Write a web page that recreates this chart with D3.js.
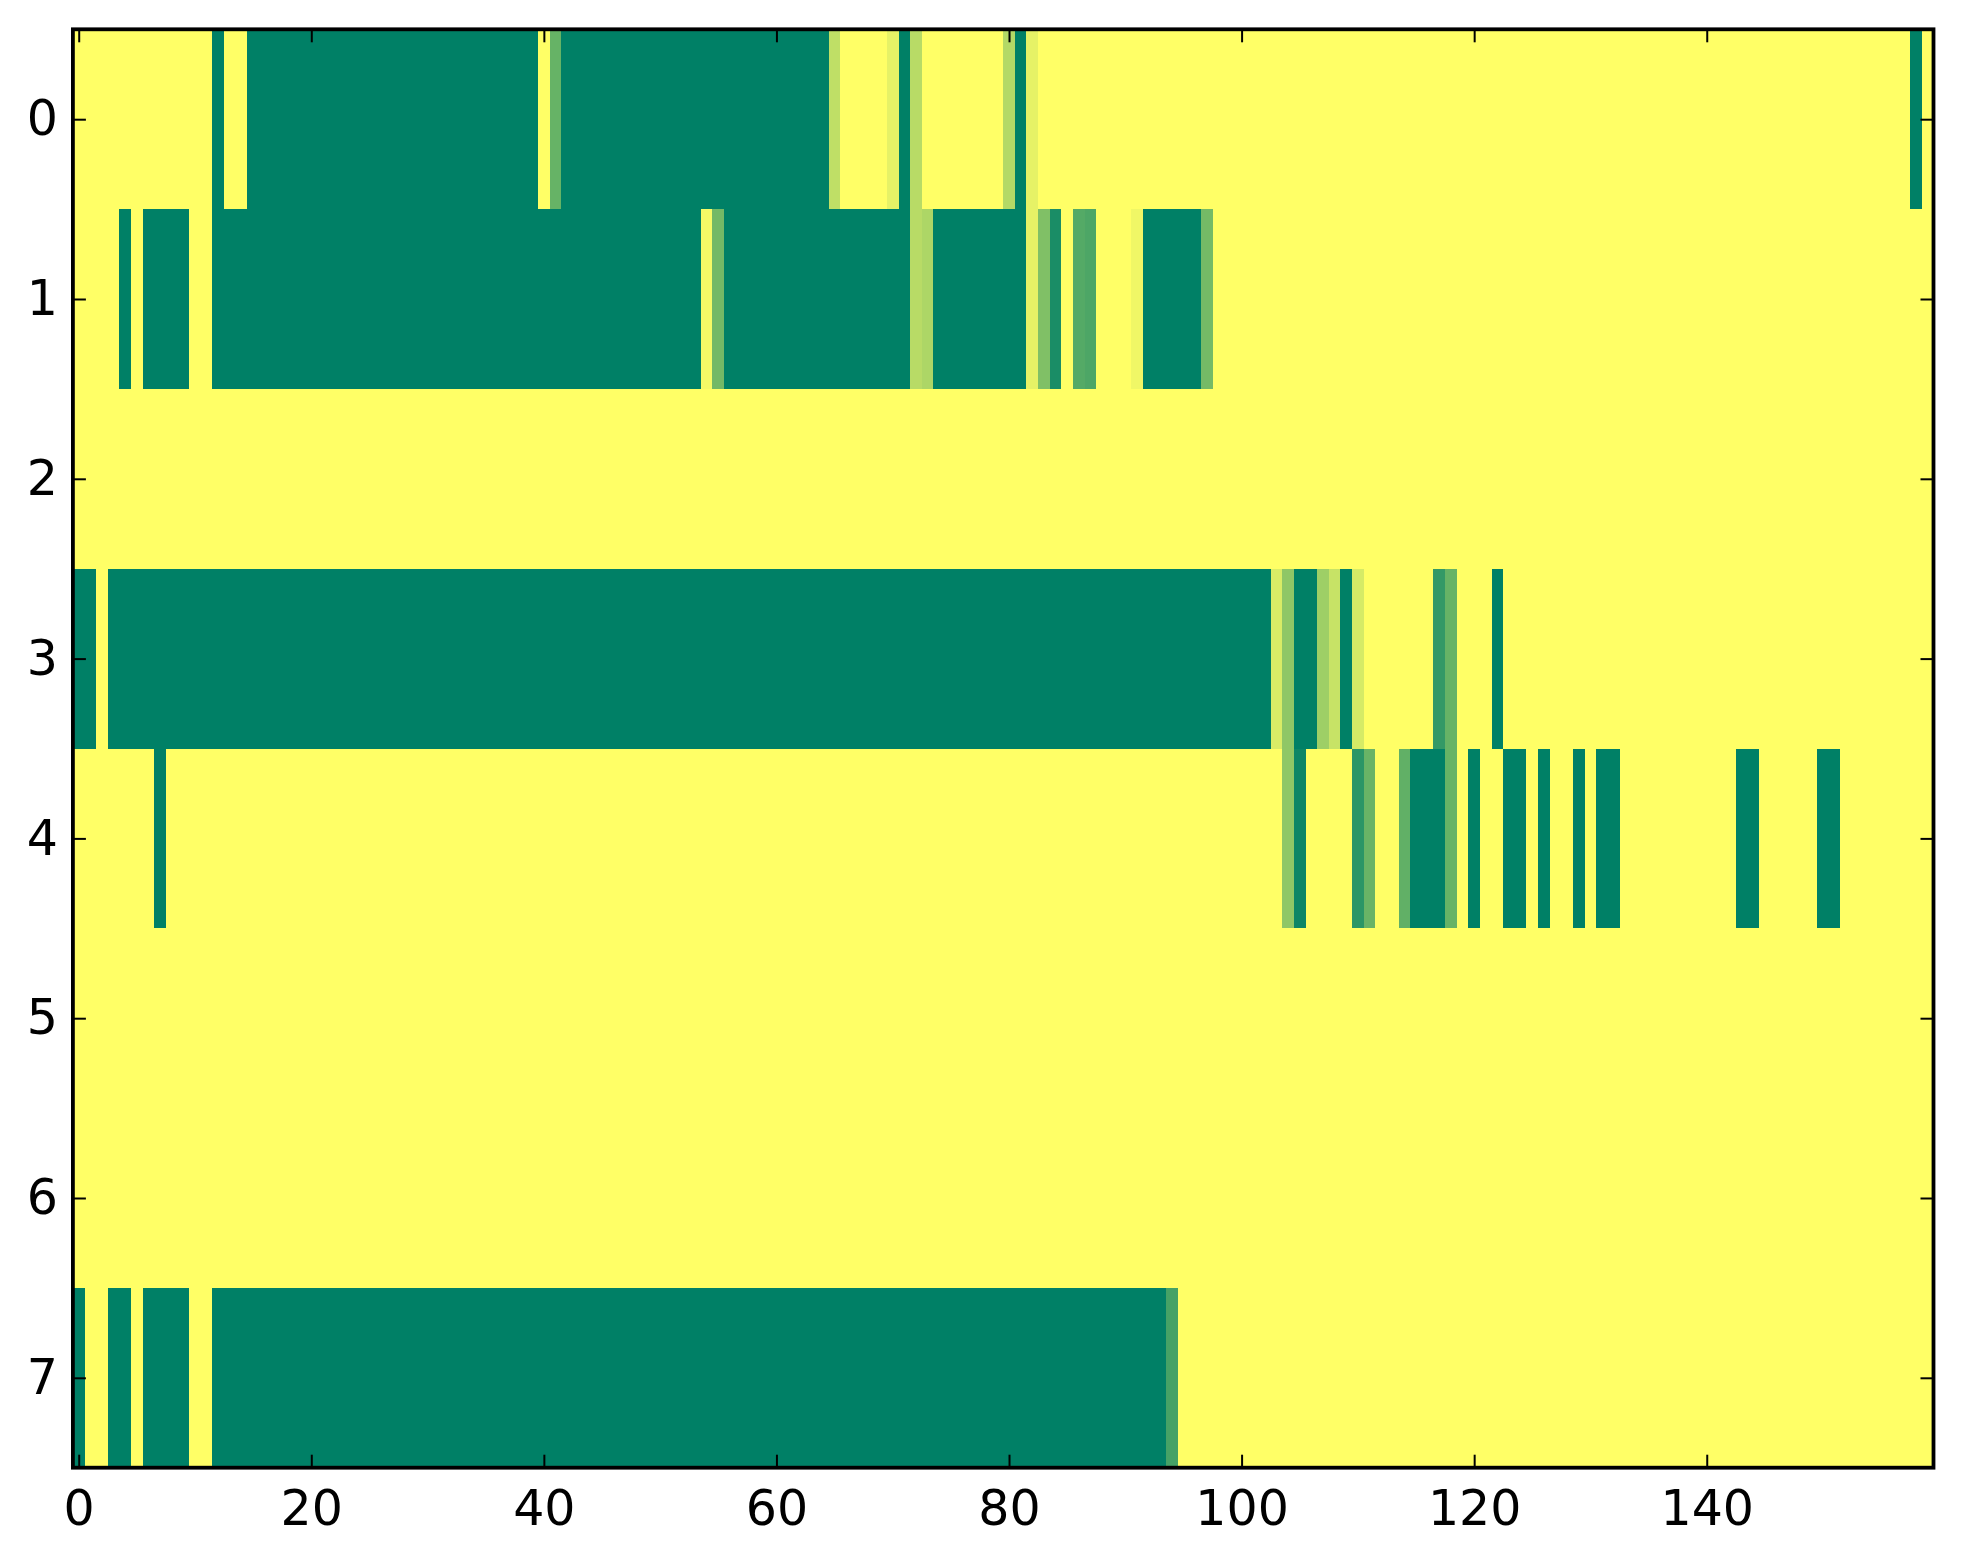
<!DOCTYPE html>
<html>
<head>
<meta charset="utf-8">
<script src="https://cdn.jsdelivr.net/npm/d3@7"></script>
<style>
  html, body { margin: 0; padding: 0; background: #fff; }
  svg { display: block; }
  .tick text { font-family: "DejaVu Sans", sans-serif; font-size: 49px; fill: #000; }
</style>
</head>
<body>
<svg id="chart" width="1963" height="1564"></svg>
<script>
// Row labels and column index range of the heatmap
const rowLabels = [0, 1, 2, 3, 4, 5, 6, 7];
const xTickValues = [0, 20, 40, 60, 80, 100, 120, 140];
const nCols = 160;

// Cell values per row (0 = dark green, 1 = yellow; 'summer' colormap)
const row0 = [
  1,1,1,1,1,1,1,1,1,1,  1,1,0,1,1,0,0,0,0,0,  0,0,0,0,0,0,0,0,0,0,  0,0,0,0,0,0,0,0,0,0,
  1,.4,0,0,0,0,0,0,0,0, 0,0,0,0,0,0,0,0,0,0,  0,0,0,0,0,.75,1,1,1,1, .9,0,.72,1,1,1,1,1,1,1,
  .7,0,.9,1,1,1,1,1,1,1, 1,1,1,1,1,1,1,1,1,1, 1,1,1,1,1,1,1,1,1,1,  1,1,1,1,1,1,1,1,1,1,
  1,1,1,1,1,1,1,1,1,1,  1,1,1,1,1,1,1,1,1,1,  1,1,1,1,1,1,1,1,1,1,  1,1,1,1,1,1,1,1,0,1
];
const row1 = [
  1,1,1,1,0,1,0,0,0,0,  1,1,0,0,0,0,0,0,0,0,  0,0,0,0,0,0,0,0,0,0,  0,0,0,0,0,0,0,0,0,0,
  0,0,0,0,0,0,0,0,0,0,  0,0,0,0,.96,.45,0,0,0,0, 0,0,0,0,0,0,0,0,0,0, 0,0,.72,.68,0,0,0,0,0,0,
  0,0,.9,.5,.1,1,.33,.3,1,1, 1,.94,0,0,0,0,0,.46,1,1, 1,1,1,1,1,1,1,1,1,1, 1,1,1,1,1,1,1,1,1,1,
  1,1,1,1,1,1,1,1,1,1,  1,1,1,1,1,1,1,1,1,1,  1,1,1,1,1,1,1,1,1,1,  1,1,1,1,1,1,1,1,1,1
];
const row2 = [
  1,1,1,1,1,1,1,1,1,1,  1,1,1,1,1,1,1,1,1,1,  1,1,1,1,1,1,1,1,1,1,  1,1,1,1,1,1,1,1,1,1,
  1,1,1,1,1,1,1,1,1,1,  1,1,1,1,1,1,1,1,1,1,  1,1,1,1,1,1,1,1,1,1,  1,1,1,1,1,1,1,1,1,1,
  1,1,1,1,1,1,1,1,1,1,  1,1,1,1,1,1,1,1,1,1,  1,1,1,1,1,1,1,1,1,1,  1,1,1,1,1,1,1,1,1,1,
  1,1,1,1,1,1,1,1,1,1,  1,1,1,1,1,1,1,1,1,1,  1,1,1,1,1,1,1,1,1,1,  1,1,1,1,1,1,1,1,1,1
];
const row3 = [
  0,0,1,0,0,0,0,0,0,0,  0,0,0,0,0,0,0,0,0,0,  0,0,0,0,0,0,0,0,0,0,  0,0,0,0,0,0,0,0,0,0,
  0,0,0,0,0,0,0,0,0,0,  0,0,0,0,0,0,0,0,0,0,  0,0,0,0,0,0,0,0,0,0,  0,0,0,0,0,0,0,0,0,0,
  0,0,0,0,0,0,0,0,0,0,  0,0,0,0,0,0,0,0,0,0,  0,0,0,.85,.56,0,0,.62,.78,0, .84,1,1,1,1,1,1,.2,.4,1,
  1,1,0,1,1,1,1,1,1,1,  1,1,1,1,1,1,1,1,1,1,  1,1,1,1,1,1,1,1,1,1,  1,1,1,1,1,1,1,1,1,1
];
const row4 = [
  1,1,1,1,1,1,1,0,1,1,  1,1,1,1,1,1,1,1,1,1,  1,1,1,1,1,1,1,1,1,1,  1,1,1,1,1,1,1,1,1,1,
  1,1,1,1,1,1,1,1,1,1,  1,1,1,1,1,1,1,1,1,1,  1,1,1,1,1,1,1,1,1,1,  1,1,1,1,1,1,1,1,1,1,
  1,1,1,1,1,1,1,1,1,1,  1,1,1,1,1,1,1,1,1,1,  1,1,1,1,.56,.05,1,1,1,1, .17,.41,1,1,.38,0,0,0,.4,1,
  0,1,1,0,0,1,0,1,1,0,  1,0,0,1,1,1,1,1,1,1,  1,1,1,0,0,1,1,1,1,1,  0,0,1,1,1,1,1,1,1,1
];
const row5 = [
  1,1,1,1,1,1,1,1,1,1,  1,1,1,1,1,1,1,1,1,1,  1,1,1,1,1,1,1,1,1,1,  1,1,1,1,1,1,1,1,1,1,
  1,1,1,1,1,1,1,1,1,1,  1,1,1,1,1,1,1,1,1,1,  1,1,1,1,1,1,1,1,1,1,  1,1,1,1,1,1,1,1,1,1,
  1,1,1,1,1,1,1,1,1,1,  1,1,1,1,1,1,1,1,1,1,  1,1,1,1,1,1,1,1,1,1,  1,1,1,1,1,1,1,1,1,1,
  1,1,1,1,1,1,1,1,1,1,  1,1,1,1,1,1,1,1,1,1,  1,1,1,1,1,1,1,1,1,1,  1,1,1,1,1,1,1,1,1,1
];
const row6 = [
  1,1,1,1,1,1,1,1,1,1,  1,1,1,1,1,1,1,1,1,1,  1,1,1,1,1,1,1,1,1,1,  1,1,1,1,1,1,1,1,1,1,
  1,1,1,1,1,1,1,1,1,1,  1,1,1,1,1,1,1,1,1,1,  1,1,1,1,1,1,1,1,1,1,  1,1,1,1,1,1,1,1,1,1,
  1,1,1,1,1,1,1,1,1,1,  1,1,1,1,1,1,1,1,1,1,  1,1,1,1,1,1,1,1,1,1,  1,1,1,1,1,1,1,1,1,1,
  1,1,1,1,1,1,1,1,1,1,  1,1,1,1,1,1,1,1,1,1,  1,1,1,1,1,1,1,1,1,1,  1,1,1,1,1,1,1,1,1,1
];
const row7 = [
  0,1,1,0,0,1,0,0,0,0,  1,1,0,0,0,0,0,0,0,0,  0,0,0,0,0,0,0,0,0,0,  0,0,0,0,0,0,0,0,0,0,
  0,0,0,0,0,0,0,0,0,0,  0,0,0,0,0,0,0,0,0,0,  0,0,0,0,0,0,0,0,0,0,  0,0,0,0,0,0,0,0,0,0,
  0,0,0,0,0,0,0,0,0,0,  0,0,0,0,.27,1,1,1,1,1, 1,1,1,1,1,1,1,1,1,1,  1,1,1,1,1,1,1,1,1,1,
  1,1,1,1,1,1,1,1,1,1,  1,1,1,1,1,1,1,1,1,1,  1,1,1,1,1,1,1,1,1,1,  1,1,1,1,1,1,1,1,1,1
];
const rows = [row0, row1, row2, row3, row4, row5, row6, row7];

// Layout
const plot = { left: 72.9, right: 1933.5, top: 29.3, bottom: 1467.7 };

const svg = d3.select("#chart");

const x = d3.scaleLinear().domain([-0.5, nCols - 0.5]).range([plot.left, plot.right]);
const y = d3.scaleLinear().domain([-0.5, rowLabels.length - 0.5]).range([plot.top, plot.bottom]);
const color = d3.scaleLinear().domain([0, 1]).range(["#008066", "#ffff66"]).interpolate(d3.interpolateRgb);

const cells = [];
rows.forEach((vals, r) => vals.forEach((v, c) => cells.push({ r, c, v })));

svg.append("g")
  .attr("shape-rendering", "crispEdges")
  .selectAll("rect")
  .data(cells)
  .join("rect")
  .attr("x", d => x(d.c - 0.5))
  .attr("y", d => y(d.r - 0.5))
  .attr("width", d => x(d.c + 0.5) - x(d.c - 0.5) + 0.4)
  .attr("height", d => y(d.r + 0.5) - y(d.r - 0.5) + 0.4)
  .attr("fill", d => color(d.v));

const tickLen = 13;

function styleAxis(g) {
  g.select(".domain").remove();
  g.selectAll(".tick line").attr("stroke", "#000").attr("stroke-width", 2);
}

svg.append("g")
  .attr("transform", `translate(0,${plot.bottom})`)
  .call(d3.axisBottom(x).tickValues(xTickValues).tickSize(-tickLen).tickPadding(23).tickSizeOuter(0))
  .call(styleAxis);

svg.append("g")
  .attr("transform", `translate(0,${plot.top})`)
  .call(d3.axisTop(x).tickValues(xTickValues).tickSize(-tickLen).tickFormat("").tickSizeOuter(0))
  .call(styleAxis);

svg.append("g")
  .attr("transform", `translate(${plot.left},0)`)
  .call(d3.axisLeft(y).tickValues(rowLabels).tickSize(-tickLen).tickPadding(15).tickFormat(d3.format("d")).tickSizeOuter(0))
  .call(styleAxis);

svg.append("g")
  .attr("transform", `translate(${plot.right},0)`)
  .call(d3.axisRight(y).tickValues(rowLabels).tickSize(-tickLen).tickFormat("").tickSizeOuter(0))
  .call(styleAxis);

svg.selectAll(".tick text").attr("font-family", "DejaVu Sans").attr("font-size", 49);

svg.append("rect")
  .attr("x", plot.left)
  .attr("y", plot.top)
  .attr("width", plot.right - plot.left)
  .attr("height", plot.bottom - plot.top)
  .attr("fill", "none")
  .attr("stroke", "#000")
  .attr("stroke-width", 3.8);
</script>
</body>
</html>
